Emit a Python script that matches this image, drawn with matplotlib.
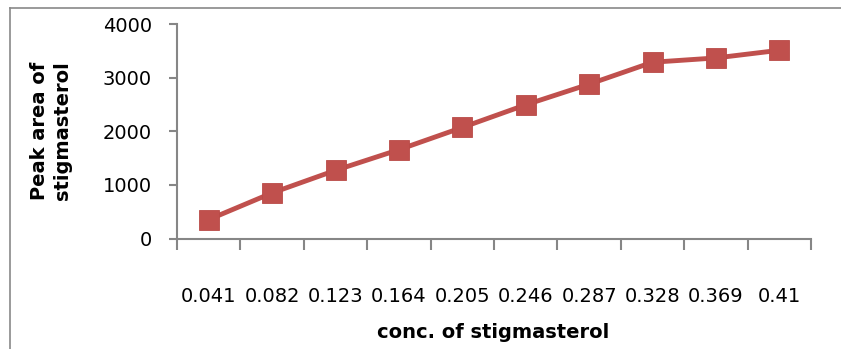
import matplotlib
matplotlib.use("Agg")
import matplotlib.pyplot as plt
from matplotlib.lines import Line2D
import numpy as np

categories = ["0.041", "0.082", "0.123", "0.164", "0.205", "0.246", "0.287", "0.328", "0.369", "0.41"]
peak_area = [353, 850, 1271, 1656, 2071, 2493, 2878, 3287, 3367, 3510]
yticks = [0, 1000, 2000, 3000, 4000]

W, H = 841, 349
fig = plt.figure(figsize=(W / 100, H / 100), dpi=100)
x0, x1, y0, y1 = 177, 811, 238.5, 24
ax = fig.add_axes([x0 / W, 1 - y0 / H, (x1 - x0) / W, (y0 - y1) / H])

x = np.arange(len(categories))
ax.plot(x, peak_area, color="#C0504D", lw=3.5, marker="s", markersize=14.5,
        markerfacecolor="#C0504D", markeredgecolor="#B94A47", markeredgewidth=0.6,
        solid_joinstyle="round", clip_on=False, zorder=3)

ax.set_xlim(-0.5, len(categories) - 0.5)
ax.set_ylim(0, 4000)
ax.set_yticks(yticks)
ax.set_yticklabels([str(v) for v in yticks])

# boundary ticks (no labels) and centered labels
ax.set_xticks(np.arange(-0.5, len(categories), 1.0))
ax.set_xticklabels([])
ax.set_xticks(x, minor=True)
ax.set_xticklabels(categories, minor=True)

axis_color = "#868686"
for s in ["top", "right"]:
    ax.spines[s].set_visible(False)
for s in ["left", "bottom"]:
    ax.spines[s].set_color(axis_color)
    ax.spines[s].set_linewidth(1.5)

ax.tick_params(axis="x", which="major", direction="out", length=8, width=1.5, color=axis_color)
ax.tick_params(axis="x", which="minor", length=0, pad=35, labelsize=14, labelcolor="black")
ax.tick_params(axis="y", which="major", direction="out", length=6, width=1.5, color=axis_color,
               labelsize=14, pad=12)

ax.set_ylabel("Peak area of\nstigmasterol", fontsize=14, fontweight="bold", linespacing=1.25)
ax.yaxis.label.set_va("center")
ax.yaxis.set_label_coords((51 - x0) / (x1 - x0), (y0 - 131) / (y0 - y1))
ax.set_xlabel("conc. of stigmasterol", fontsize=14, fontweight="bold")
ax.xaxis.label.set_va("center")
ax.xaxis.set_label_coords((493 - x0) / (x1 - x0), -(333 - y0) / (y0 - y1))

# chart-area border (top and left visible)
fig.add_artist(Line2D([9.5 / W, 1.0], [1 - 7.5 / H, 1 - 7.5 / H], color="#898989", lw=1.2,
                      transform=fig.transFigure))
fig.add_artist(Line2D([9.5 / W, 9.5 / W], [0.0, 1 - 7.5 / H], color="#898989", lw=1.2,
                      transform=fig.transFigure))

fig.savefig("out.png", dpi=100)
